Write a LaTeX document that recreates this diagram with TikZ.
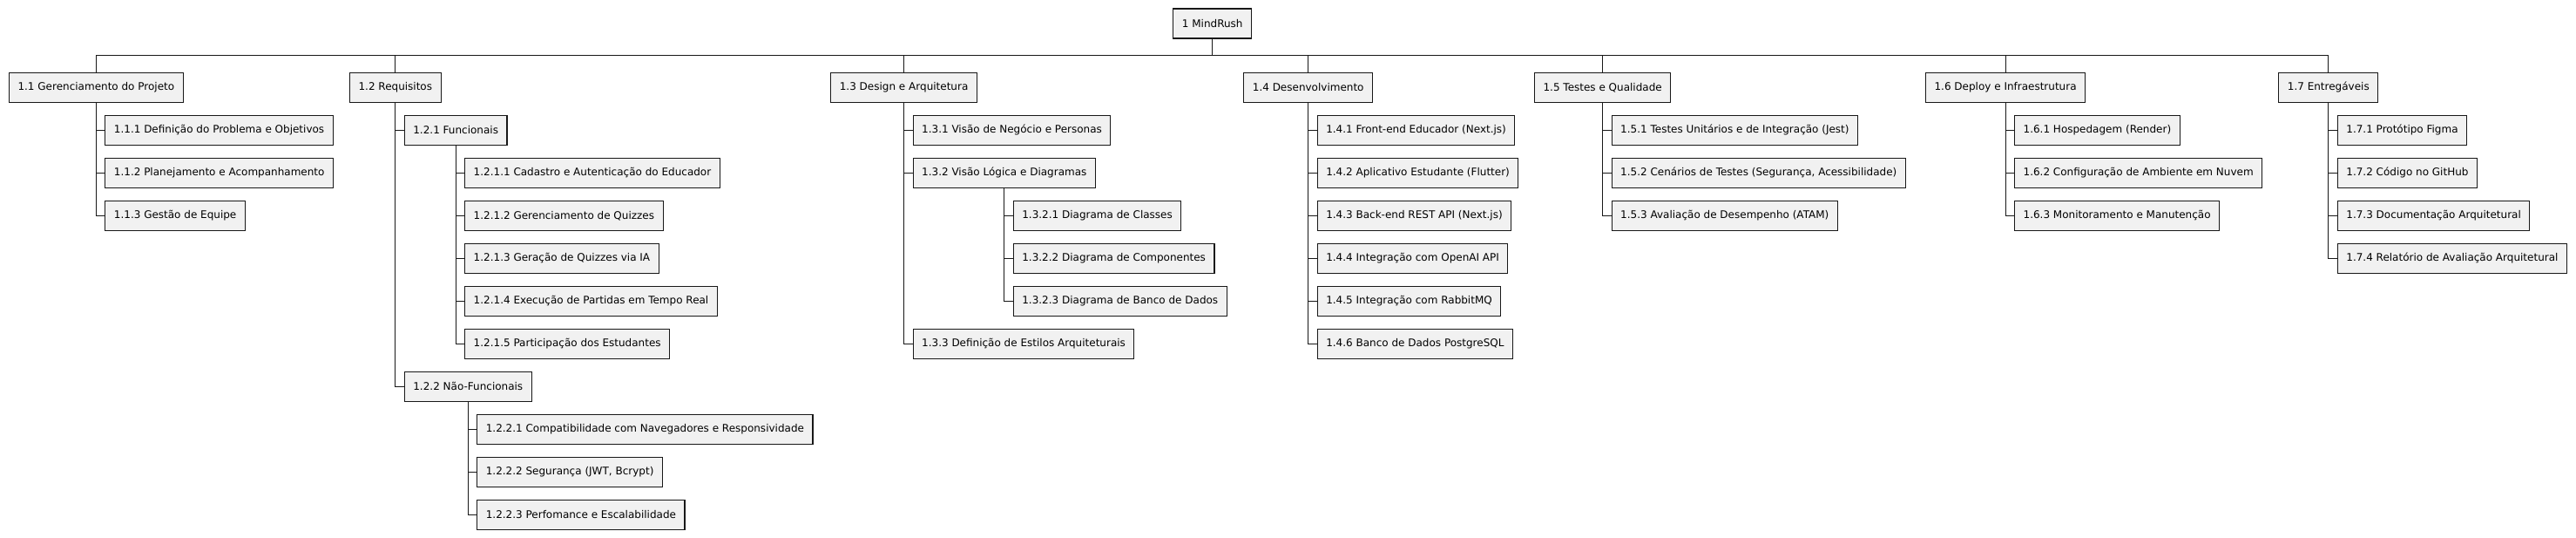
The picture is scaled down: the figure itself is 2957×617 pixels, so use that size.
\documentclass[tikz,border=0pt]{standalone}
\usepackage{fontspec}
\setmainfont{DejaVu Sans}
\definecolor{boxfill}{HTML}{F1F1F1}
\definecolor{boxline}{HTML}{181818}
\tikzset{
  wbsbox/.style={draw=boxline, fill=boxfill, line width=1.1pt, minimum height=34pt,
    inner xsep=10pt, inner ysep=0pt, anchor=west, font=\fontsize{12pt}{14pt}\selectfont, text=black},
  wbsline/.style={draw=boxline, line width=1pt},
}
\begin{document}
\begin{tikzpicture}[x=1pt,y=-1pt]
\useasboundingbox (0,0) rectangle (2957,617);
\foreach \k in {0,...,10} { \coordinate (r\k) at (0,{100.3+49*\k}); }
\coordinate (bar) at (0,63.3);

\node[wbsbox, anchor=center] (root) at (1391.7,27) {1 MindRush};

% level 1
\node[wbsbox] (n11) at (10,100.3) {1.1 Gerenciamento do Projeto};
\node[wbsbox] (n12) at (401,100.3) {1.2 Requisitos};
\node[wbsbox] (n13) at (953.3,100.3) {1.3 Design e Arquitetura};
\node[wbsbox] (n14) at (1427.3,100.3) {1.4 Desenvolvimento};
\node[wbsbox] (n15) at (1761,100.3) {1.5 Testes e Qualidade};
\node[wbsbox] (n16) at (2210,100.3) {1.6 Deploy e Infraestrutura};
\node[wbsbox] (n17) at (2615.3,100.3) {1.7 Entregáveis};

\foreach \n in {n11,n12,n13,n14,n15,n16,n17} {
  \draw[wbsline] (root.south) |- (bar -| \n.north) -- (\n.north);
  \coordinate (c\n) at ([xshift=10pt]\n.south);
}

% 1.1
\node[wbsbox] (n111) at (cn11 |- r1) {1.1.1 Definição do Problema e Objetivos};
\node[wbsbox] (n112) at (cn11 |- r2) {1.1.2 Planejamento e Acompanhamento};
\node[wbsbox] (n113) at (cn11 |- r3) {1.1.3 Gestão de Equipe};
\foreach \c in {n111,n112,n113} { \draw[wbsline] (n11.south) |- (\c.west); }

% 1.2
\node[wbsbox] (n121) at (cn12 |- r1) {1.2.1 Funcionais};
\coordinate (cn121) at ([xshift=10pt]n121.south);
\node[wbsbox] (n1211) at (cn121 |- r2) {1.2.1.1 Cadastro e Autenticação do Educador};
\node[wbsbox] (n1212) at (cn121 |- r3) {1.2.1.2 Gerenciamento de Quizzes};
\node[wbsbox] (n1213) at (cn121 |- r4) {1.2.1.3 Geração de Quizzes via IA};
\node[wbsbox] (n1214) at (cn121 |- r5) {1.2.1.4 Execução de Partidas em Tempo Real};
\node[wbsbox] (n1215) at (cn121 |- r6) {1.2.1.5 Participação dos Estudantes};
\node[wbsbox] (n122) at (cn12 |- r7) {1.2.2 Não-Funcionais};
\coordinate (cn122) at ([xshift=10pt]n122.south);
\node[wbsbox] (n1221) at (cn122 |- r8) {1.2.2.1 Compatibilidade com Navegadores e Responsividade};
\node[wbsbox] (n1222) at (cn122 |- r9) {1.2.2.2 Segurança (JWT, Bcrypt)};
\node[wbsbox] (n1223) at (cn122 |- r10) {1.2.2.3 Perfomance e Escalabilidade};
\foreach \c in {n121,n122} { \draw[wbsline] (n12.south) |- (\c.west); }
\foreach \c in {n1211,n1212,n1213,n1214,n1215} { \draw[wbsline] (n121.south) |- (\c.west); }
\foreach \c in {n1221,n1222,n1223} { \draw[wbsline] (n122.south) |- (\c.west); }

% 1.3
\node[wbsbox] (n131) at (cn13 |- r1) {1.3.1 Visão de Negócio e Personas};
\node[wbsbox] (n132) at (cn13 |- r2) {1.3.2 Visão Lógica e Diagramas};
\coordinate (cn132) at ([xshift=10pt]n132.south);
\node[wbsbox] (n1321) at (cn132 |- r3) {1.3.2.1 Diagrama de Classes};
\node[wbsbox] (n1322) at (cn132 |- r4) {1.3.2.2 Diagrama de Componentes};
\node[wbsbox] (n1323) at (cn132 |- r5) {1.3.2.3 Diagrama de Banco de Dados};
\node[wbsbox] (n133) at (cn13 |- r6) {1.3.3 Definição de Estilos Arquiteturais};
\foreach \c in {n131,n132,n133} { \draw[wbsline] (n13.south) |- (\c.west); }
\foreach \c in {n1321,n1322,n1323} { \draw[wbsline] (n132.south) |- (\c.west); }

% 1.4
\node[wbsbox] (n141) at (cn14 |- r1) {1.4.1 Front-end Educador (Next.js)};
\node[wbsbox] (n142) at (cn14 |- r2) {1.4.2 Aplicativo Estudante (Flutter)};
\node[wbsbox] (n143) at (cn14 |- r3) {1.4.3 Back-end REST API (Next.js)};
\node[wbsbox] (n144) at (cn14 |- r4) {1.4.4 Integração com OpenAI API};
\node[wbsbox] (n145) at (cn14 |- r5) {1.4.5 Integração com RabbitMQ};
\node[wbsbox] (n146) at (cn14 |- r6) {1.4.6 Banco de Dados PostgreSQL};
\foreach \c in {n141,n142,n143,n144,n145,n146} { \draw[wbsline] (n14.south) |- (\c.west); }

% 1.5
\node[wbsbox] (n151) at (cn15 |- r1) {1.5.1 Testes Unitários e de Integração (Jest)};
\node[wbsbox] (n152) at (cn15 |- r2) {1.5.2 Cenários de Testes (Segurança, Acessibilidade)};
\node[wbsbox] (n153) at (cn15 |- r3) {1.5.3 Avaliação de Desempenho (ATAM)};
\foreach \c in {n151,n152,n153} { \draw[wbsline] (n15.south) |- (\c.west); }

% 1.6
\node[wbsbox] (n161) at (cn16 |- r1) {1.6.1 Hospedagem (Render)};
\node[wbsbox] (n162) at (cn16 |- r2) {1.6.2 Configuração de Ambiente em Nuvem};
\node[wbsbox] (n163) at (cn16 |- r3) {1.6.3 Monitoramento e Manutenção};
\foreach \c in {n161,n162,n163} { \draw[wbsline] (n16.south) |- (\c.west); }

% 1.7
\node[wbsbox] (n171) at (cn17 |- r1) {1.7.1 Protótipo Figma};
\node[wbsbox] (n172) at (cn17 |- r2) {1.7.2 Código no GitHub};
\node[wbsbox] (n173) at (cn17 |- r3) {1.7.3 Documentação Arquitetural};
\node[wbsbox] (n174) at (cn17 |- r4) {1.7.4 Relatório de Avaliação Arquitetural};
\foreach \c in {n171,n172,n173,n174} { \draw[wbsline] (n17.south) |- (\c.west); }
\end{tikzpicture}
\end{document}
